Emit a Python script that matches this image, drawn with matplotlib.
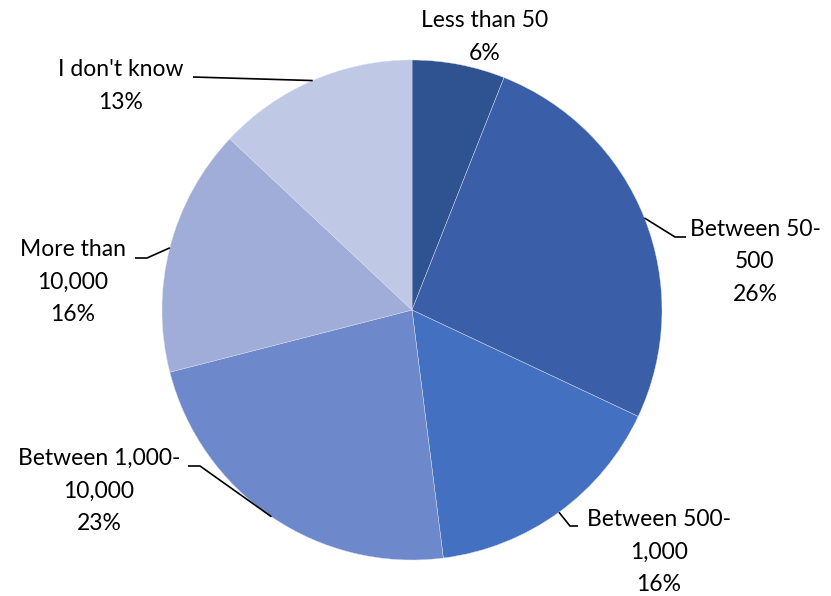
import numpy as np
import matplotlib.pyplot as plt

plt.rcParams["font.family"] = ["Lato", "DejaVu Sans"]

labels = ["Less than 50", "Between 50-\n500", "Between 500-\n1,000",
          "Between 1,000-\n10,000", "More than\n10,000", "I don't know"]
shares = [6, 26, 16, 23, 16, 13]
colors = ["#2F5290", "#3A5FA8", "#4370C0", "#6E89CB", "#9FADD8", "#BFC8E4"]

W, H = 831, 596
CX, CY, R = 412, 310, 250

# label anchor (text centre) and leader elbow, in pixel coords from top-left
label_pos = [(485, 37), (755, 262), (659, 552), (99, 491), (73, 282), (121, 86)]
elbows = [None, (675, 237), (570, 526), (200, 466), (147, 258), (193, 77)]
stub_end = [None, (686, 237), (578, 526), (188, 466), (135, 258), (193, 77)]


def px(x, y):
    return x, H - y


fig = plt.figure(figsize=(W / 100, H / 100), dpi=100)
ax = fig.add_axes([0, 0, 1, 1])

wedges, _ = ax.pie(shares, colors=colors, startangle=90, counterclock=False,
                   radius=R, center=px(CX, CY), frame=True,
                   wedgeprops=dict(edgecolor="#D9DFEF", linewidth=0.3))
ax.set_xlim(0, W)
ax.set_ylim(0, H)
ax.set_aspect("equal")
ax.axis("off")

for i, (w, lab, val) in enumerate(zip(wedges, labels, shares)):
    tx, ty = label_pos[i]
    ax.text(*px(tx, ty), f"{lab}\n{val}%", ha="center", va="center",
            multialignment="center", fontsize=16.5, linespacing=1.7,
            color="black")
    if elbows[i] is None:
        continue
    mid = np.deg2rad((w.theta1 + w.theta2) / 2)
    ex, ey = CX + R * np.cos(mid), CY - R * np.sin(mid)
    pts = [(ex, ey), elbows[i], stub_end[i]]
    ax.plot([p[0] for p in pts], [H - p[1] for p in pts], color="black",
            linewidth=1.2, solid_capstyle="butt")

fig.savefig("out.png", dpi=100)
